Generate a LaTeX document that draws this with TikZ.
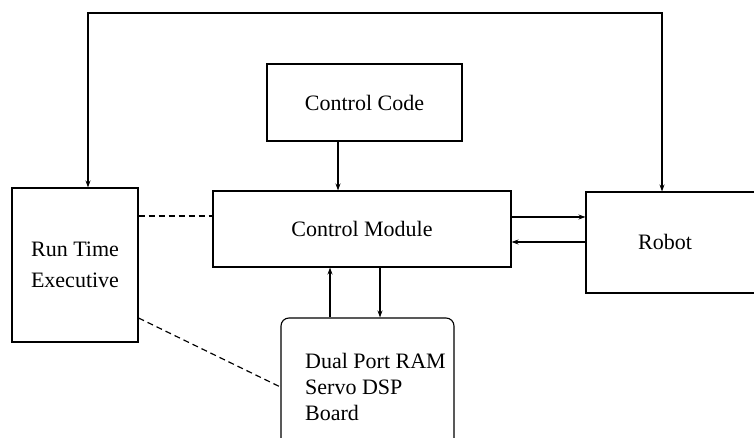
\documentclass[tikz,border=0pt]{standalone}
\usepackage{fontspec}
\setmainfont{Liberation Serif}
\newfontfamily\blockfont{Liberation Serif}
\usetikzlibrary{arrows.meta}
\begin{document}
\begin{tikzpicture}[x=1pt,y=-1pt,
  box/.style={draw, line width=1.1pt, inner sep=0pt, align=center,
              font=\blockfont\fontsize{22}{26}\selectfont},
  lbl/.style={inner sep=0pt, align=left, font=\blockfont\fontsize{22}{26}\selectfont},
  arr/.style={line width=1.1pt, -{Stealth[length=7pt,width=5pt]}},
  dsh/.style={line width=1.2pt, dash pattern=on 6pt off 4pt}]
\useasboundingbox (0,0) rectangle (754,438);

% blocks
\node[box, minimum width=195, minimum height=77] (code) at (364.5,102.5) {Control Code};
\node[box, minimum width=298, minimum height=76] (cm) at (362,229) {Control Module};
\node[box, minimum width=126, minimum height=154,
      font=\blockfont\fontsize{22}{31}\selectfont] (rte) at (75,265) {Run Time\\Executive};
\node[box, minimum width=204, minimum height=101] (robot) at (688,242.5) {};
\node[lbl] (robotlbl) at (665,242) {Robot};
\node[box, rounded corners=8pt, minimum width=173, minimum height=162] (dp) at (367.5,399) {};
\node[lbl, anchor=west] (dplbl) at (305,387) {Dual Port RAM\\Servo DSP\\Board};

% helper positions for the connectors
\coordinate (ltop) at (88,13);
\coordinate (rtop) at (662,13);
\coordinate (c1) at (338,0);
\coordinate (r1) at (0,217);
\coordinate (r2) at (0,242);
\coordinate (d1) at (330,0);
\coordinate (d2) at (380,0);
\coordinate (e1) at (0,216);
\coordinate (e2) at (0,318);
\coordinate (e3) at (0,387);

% connectors
\draw[line width=1.1pt, {Stealth[length=7pt,width=5pt]}-{Stealth[length=7pt,width=5pt]}]
  (ltop |- rte.north) -- (ltop) -- (rtop) -- (rtop |- robot.north);
\draw[arr] (c1 |- code.south) -- (c1 |- cm.north);
\draw[arr] (cm.east |- r1) -- (robot.west |- r1);
\draw[arr] (robot.west |- r2) -- (cm.east |- r2);
\draw[arr] (d1 |- dp.north) -- (d1 |- cm.south);
\draw[arr] (d2 |- cm.south) -- (d2 |- dp.north);
\draw[dsh] (rte.east |- e1) -- (cm.west |- e1);
\draw[dsh] (rte.east |- e2) -- (dp.west |- e3);
\end{tikzpicture}
\end{document}
